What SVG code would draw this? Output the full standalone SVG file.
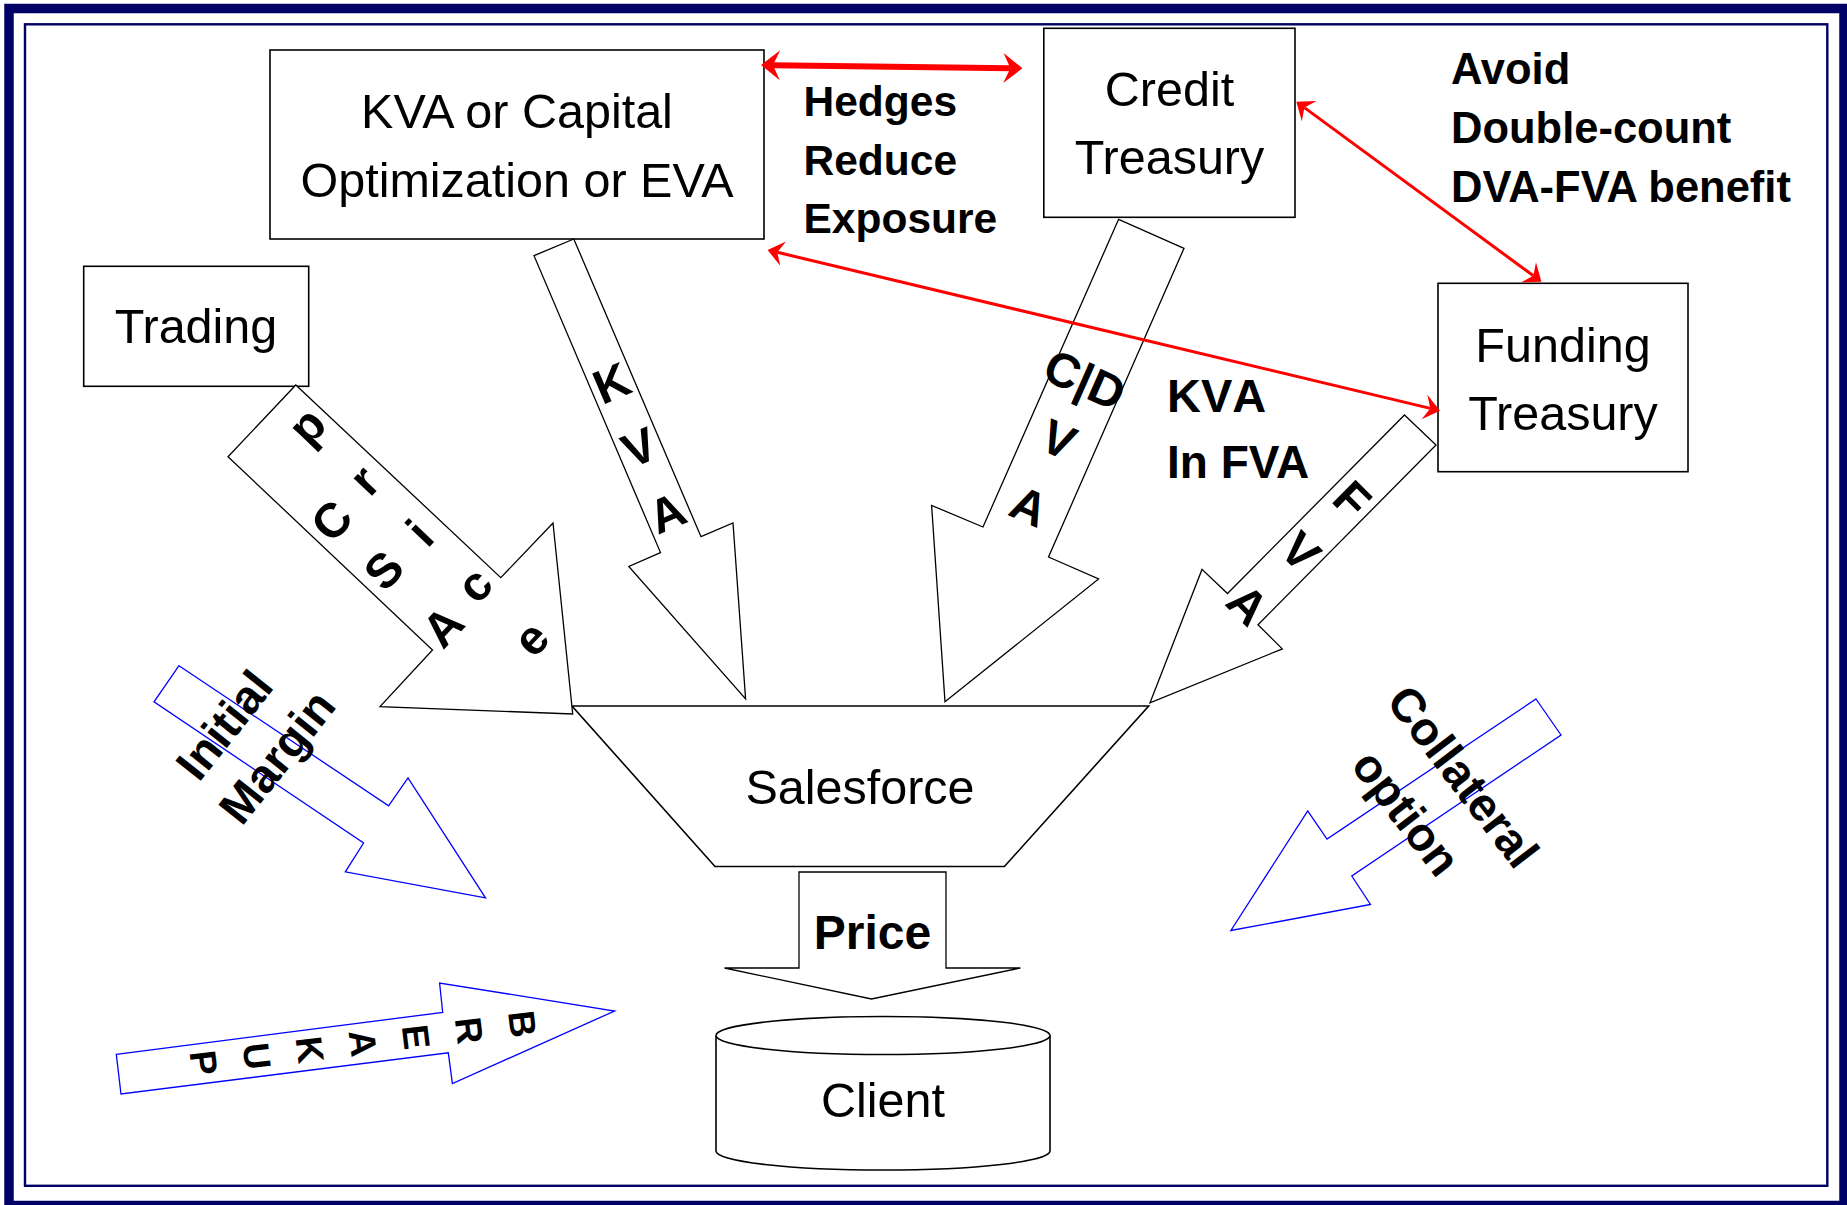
<svg xmlns="http://www.w3.org/2000/svg" width="1847" height="1205" viewBox="0 0 1847 1205">
  <defs>
    <style>
      .box { fill: #ffffff; stroke: #000000; stroke-width: 1.6; }
      .blk { fill: #ffffff; stroke: #000000; stroke-width: 1.3; stroke-linejoin: miter; }
      .blu { fill: #ffffff; stroke: #0000ff; stroke-width: 1.3; }
      .lbl { font-family: "Liberation Sans", Arial, sans-serif; font-size: 48.5px; fill: #000000; text-anchor: middle; }
      .bold { font-family: "Liberation Sans", Arial, sans-serif; font-weight: bold; font-size: 42.5px; fill: #000000; }
      .ltr { font-family: "Liberation Sans", Arial, sans-serif; font-weight: bold; font-size: 48px; fill: #000000; text-anchor: middle; }
      .red { fill: none; stroke: #ff0000; stroke-linecap: butt; }
    </style>
    <marker id="headWide" markerUnits="userSpaceOnUse" orient="auto-start-reverse" refX="-12" refY="0" markerWidth="40" markerHeight="40" overflow="visible">
      <path d="M0,0 L-19,-15 L-12,0 L-19,15 Z" fill="#ff0000"/>
    </marker>
    <marker id="headThin" markerUnits="userSpaceOnUse" orient="auto-start-reverse" refX="-10" refY="0" markerWidth="40" markerHeight="40" overflow="visible">
      <path d="M0,0 L-16,-12.5 L-10,0 L-16,12.5 Z" fill="#ff0000"/>
    </marker>
  </defs>

  <!-- page background and double frame -->
  <rect x="0" y="0" width="1847" height="1205" fill="#ffffff"/>
  <rect x="9" y="8.5" width="1835" height="1197" fill="none" stroke="#000066" stroke-width="9.5"/>
  <rect x="25" y="24.3" width="1802.3" height="1161.5" fill="none" stroke="#000066" stroke-width="2.4"/>

  <!-- nodes -->
  <g id="kva-capital">
    <rect class="box" x="270" y="50" width="494" height="189"/>
    <text class="lbl" x="517" y="127.7">KVA or Capital</text>
    <text class="lbl" x="517" y="196.7">Optimization or EVA</text>
  </g>

  <g id="trading">
    <rect class="box" x="83.7" y="266.3" width="225" height="120"/>
    <text class="lbl" x="196" y="343">Trading</text>
  </g>

  <g id="credit-treasury">
    <rect class="box" x="1043.8" y="28.3" width="251.2" height="189"/>
    <text class="lbl" x="1169.5" y="106">Credit</text>
    <text class="lbl" x="1169.5" y="174">Treasury</text>
  </g>

  <g id="funding-treasury">
    <rect class="box" x="1438" y="283.3" width="250" height="188.4"/>
    <text class="lbl" x="1563" y="361.7">Funding</text>
    <text class="lbl" x="1563" y="430">Treasury</text>
  </g>

  <g id="salesforce">
    <polygon class="box" points="572,706 1148.7,706 1004.4,866.5 715,866.5"/>
    <text class="lbl" x="860" y="804">Salesforce</text>
  </g>

  <g id="client">
    <path class="box" d="M716,1035.5 L716,1151 A167,19 0 0 0 1050,1151 L1050,1035.5 A167,19 0 0 0 716,1035.5 Z"/>
    <path class="box" fill="none" d="M716,1035.5 A167,19 0 0 0 1050,1035.5"/>
    <text class="lbl" x="883" y="1117">Client</text>
  </g>

  <!-- free-standing notes -->
  <g id="note-hedges">
    <text class="bold" x="803.5" y="116">Hedges</text>
    <text class="bold" x="803.5" y="174.5">Reduce</text>
    <text class="bold" x="803.5" y="233">Exposure</text>
  </g>
  <g id="note-double-count" style="font-size:43.5px">
    <text class="bold" x="1451" y="84" style="font-size:43.5px">Avoid</text>
    <text class="bold" x="1451" y="143" style="font-size:43.5px">Double-count</text>
    <text class="bold" x="1451" y="202" style="font-size:43.5px">DVA-FVA benefit</text>
  </g>
  <g id="note-kva-fva">
    <text class="bold" x="1167" y="411.5" style="font-size:47px;font-kerning:none">KVA</text>
    <text class="bold" x="1167" y="478" style="font-size:46px">In FVA</text>
  </g>

  <!-- connectors -->
  <g id="connectors">
    <!-- Trading to Salesforce -->
    <g id="arrow-csa-price">
      <polygon class="blk" points="295.8,385 500.8,577.6 553,523 572.7,714 380,706.6 432.5,650 228,456.7"/>
      <g class="ltr" transform="translate(403.9,553.6) rotate(-46.5)">
        <text x="26" y="-142">p</text>
        <text x="26" y="-63">r</text>
        <text x="26" y="14">i</text>
        <text x="26" y="89">c</text>
        <text x="26" y="167">e</text>
        <text x="-26" y="-58.5">C</text>
        <text x="-26" y="13.5">S</text>
        <text x="-26" y="95">A</text>
      </g>
    </g>

    <!-- KVA box to Salesforce -->
    <g id="arrow-kva">
      <polygon class="blk" points="534,255.7 573.8,239 701,536.7 733,523 745.6,699 628.8,566.5 660.5,552.6"/>
      <g class="ltr" transform="translate(639,447) rotate(-23.1)">
        <text x="0" y="-52.8">K</text>
        <text x="0" y="17.2">V</text>
        <text x="0" y="88.2">A</text>
      </g>
    </g>

    <!-- Credit Treasury to Salesforce -->
    <g id="arrow-cdva">
      <polygon class="blk" points="1118.6,219.3 1184,248.3 1048.5,557 1098.6,579 945,701.8 931.6,505.4 983,527"/>
      <g class="ltr" transform="translate(1084.5,380.5) rotate(23.8)">
        <text x="0" y="16">C|D</text>
        <text x="0" y="81">V</text>
        <text x="0" y="154">A</text>
      </g>
    </g>

    <!-- Funding Treasury to Salesforce -->
    <g id="arrow-fva">
      <polygon class="blk" points="1404.5,415 1436,445 1258,624.8 1282.3,648.9 1150,702.8 1202,569.4 1227.5,593.5"/>
      <g class="ltr" transform="translate(1301,551) rotate(44.8)">
        <text x="0" y="-55.8">F</text>
        <text x="0" y="17.2">V</text>
        <text x="0" y="92.2">A</text>
      </g>
    </g>

    <!-- Salesforce to Client -->
    <g id="arrow-price">
      <polygon class="blk" points="799,872 946,872 946,968 1020.4,968 871.5,999 724.5,968 799,968"/>
      <text class="bold" x="872.5" y="949" text-anchor="middle" style="font-size:48px">Price</text>
    </g>

    <!-- blue side arrows -->
    <g id="arrow-initial-margin">
      <polygon class="blu" points="179,665.7 388.6,805.8 408,777.9 485.5,897.8 345.3,871.8 363.6,843 154,701.8"/>
      <g class="ltr" transform="translate(252,742) rotate(-51.5)" style="font-size:47px">
        <text x="-4" y="-16">Initial</text>
        <text x="4" y="45">Margin</text>
      </g>
    </g>

    <g id="arrow-collateral">
      <polygon class="blu" points="1536,699 1561,735 1351.8,876 1370.5,904.5 1230.9,930.5 1307.7,811 1327,839"/>
      <g class="ltr" transform="translate(1433,796) rotate(52.5)" style="font-size:47px">
        <text x="3" y="-19.5">Collateral</text>
        <text x="-3" y="47.6">option</text>
      </g>
    </g>

    <g id="arrow-breakup">
      <polygon class="blu" points="116.3,1054.3 442.7,1012.4 439.6,983 614.6,1011 452.4,1083.6 448.3,1052.8 121,1094"/>
      <g class="ltr" transform="translate(363.3,1043.3) rotate(83.1)" style="font-size:37px">
        <text x="0" y="-147.3">B</text>
        <text x="0" y="-93.8">R</text>
        <text x="0" y="-40.3">E</text>
        <text x="0" y="13.2">A</text>
        <text x="0" y="66.7">K</text>
        <text x="0" y="120.2">U</text>
        <text x="0" y="173.7">P</text>
      </g>
    </g>

    <!-- red two-way links -->
    <path class="red" stroke-width="6" d="M773,65.15 L1010.4,68.15" marker-start="url(#headWide)" marker-end="url(#headWide)"/>
    <path class="red" stroke-width="3" d="M777.3,252.3 L1430.3,408.4" marker-start="url(#headThin)" marker-end="url(#headThin)"/>
    <path class="red" stroke-width="3" d="M1304.4,107.6 L1533.4,275.8" marker-start="url(#headThin)" marker-end="url(#headThin)"/>
  </g>
</svg>
